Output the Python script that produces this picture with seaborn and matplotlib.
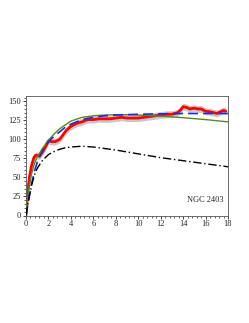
import numpy as np
import pandas as pd
import matplotlib
matplotlib.use("Agg")
import matplotlib.pyplot as plt
import seaborn as sns
from matplotlib.ticker import MultipleLocator

sns.set_style("ticks")
plt.rcParams['font.family'] = ['Liberation Serif', 'DejaVu Serif']

# observed rotation curve
r_obs = [0.0, 0.15, 0.3, 0.5, 0.7, 0.85, 1.0, 1.2, 1.5, 1.8, 2.0, 2.3, 2.6, 3.0, 3.3, 3.6, 4.0, 4.5, 5.0, 5.5, 6.0,
         6.5, 7.0, 7.5, 8.0, 8.5, 9.0, 9.5, 10.0, 10.5, 11.0, 11.5, 12.0, 12.5, 13.0, 13.5, 13.8, 14.0, 14.3,
         14.6, 15.0, 15.3, 15.6, 16.0, 16.5, 17.0, 17.3, 17.6, 17.8]
v_obs = [0, 30, 50, 66, 76, 79, 79, 78, 84, 92, 98, 97, 97, 100, 106, 112, 117, 121, 123, 126, 126,
         127, 127, 127, 128, 129, 128, 128, 128, 129, 130, 131, 132, 133, 133, 135, 139, 143, 142,
         140, 141, 140, 140, 137, 136, 134, 136, 138, 137]
err_obs = 4.5

# model curves
r_mod = [0.0, 0.25, 0.5, 0.75, 1.0, 1.5, 2.0, 2.5, 3.0, 3.5, 4.0, 5.0, 6.0, 7.0, 8.0, 9.0, 10.0, 12.0, 14.0, 16.0, 18.0]
v_blue = [0, 22, 42, 58, 70, 86, 97, 104, 110, 116, 120, 126, 129, 131, 132, 132.5, 133, 133.5, 134, 134, 134]
v_green = [5, 35, 55, 68, 77, 89, 99, 107, 114, 119, 124, 129, 131, 132, 132.5, 132.5, 132, 130.5, 128.5, 126, 123]
v_black = [0, 22, 40, 53, 62, 73, 80, 84, 87, 89, 90, 91, 90, 88, 86, 83.5, 81, 76, 72, 68, 64]

df_obs = pd.DataFrame({"r": r_obs, "v": v_obs})
df_mod = pd.DataFrame({"r": r_mod, "blue": v_blue, "green": v_green, "black": v_black})

fig = plt.figure(figsize=(2.49, 3.23), dpi=100)
ax = fig.add_axes([26/249, 1 - 215.5/323, 202/249, 119.5/323])

ax.fill_between(df_obs["r"], df_obs["v"] - err_obs, df_obs["v"] + err_obs, color="#c8c8c8", lw=0, zorder=1)
sns.lineplot(data=df_obs, x="r", y="v", ax=ax, color="red", lw=2.0, zorder=2)
sns.lineplot(data=df_mod, x="r", y="green", ax=ax, color="#5a8a1a", lw=1.0, zorder=3)
sns.lineplot(data=df_mod, x="r", y="blue", ax=ax, color="#1a2ee0", lw=1.2, ls=(0, (6, 3)), zorder=4)
sns.lineplot(data=df_mod, x="r", y="black", ax=ax, color="black", lw=1.0, ls=(0, (6, 2, 1, 2)), zorder=4)

ax.set_xlim(0, 18)
ax.set_ylim(0, 157)
ax.set_xlabel("")
ax.set_ylabel("")
ax.xaxis.set_major_locator(MultipleLocator(2))
ax.xaxis.set_minor_locator(MultipleLocator(0.4))
ax.yaxis.set_major_locator(MultipleLocator(25))
ax.yaxis.set_minor_locator(MultipleLocator(5))
ax.tick_params(which="major", length=2.5, width=0.6, labelsize=6, pad=1)
ax.tick_params(which="minor", length=1.2, width=0.5)
for s in ax.spines.values():
    s.set_linewidth(0.6)
    s.set_color("#555555")
ax.text(17.6, 20, "NGC 2403", ha="right", va="center", fontsize=6)

fig.savefig("out.png", dpi=100)
